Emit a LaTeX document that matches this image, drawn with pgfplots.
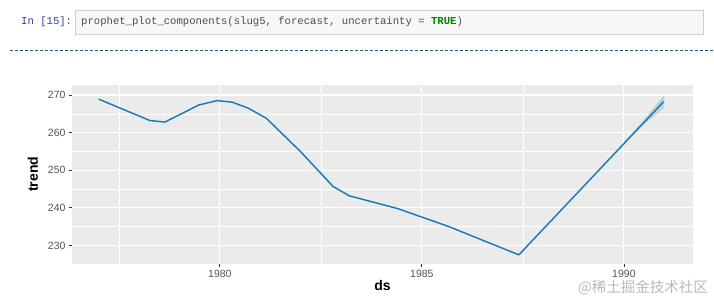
\documentclass[border=0pt]{standalone}
\usepackage{fontspec}
\setmainfont{Liberation Sans}
\setmonofont{Liberation Mono}
\newfontfamily\cjk{Noto Sans CJK SC}
\usepackage{pgfplots}
\pgfplotsset{compat=1.18}
\definecolor{panel}{HTML}{EBEBEB}
\definecolor{pblue}{HTML}{1A7AB5}
\definecolor{prompt}{HTML}{303F9F}
\definecolor{cellbg}{HTML}{F7F7F7}
\definecolor{cellbd}{HTML}{CFCFCF}
\definecolor{dashc}{HTML}{2E5E7A}
\definecolor{tickl}{HTML}{555555}
\definecolor{tickm}{HTML}{333333}
\begin{document}
\begin{tikzpicture}[x=1pt,y=1pt]
\useasboundingbox (0,0) rectangle (714,303);
% notebook cell
\filldraw[fill=cellbg, draw=cellbd, line width=0.6pt] (75,269) rectangle (703,293);
\node[anchor=west, inner sep=0pt, text=prompt, font=\ttfamily\fontsize{10.6}{12}\selectfont] at (21,281) {In [15]:};
\node[anchor=west, inner sep=0pt, text=black!70, font=\ttfamily\fontsize{10.6}{12}\selectfont] at (81,281) {prophet\_plot\_components(slug5, forecast, uncertainty = {\color{green!50!black}\bfseries TRUE})};
\draw[dashc, dashed, line width=0.7pt, dash pattern=on 3pt off 2pt] (10,253) -- (714,253);
\begin{axis}[
  at={(72pt,39.5pt)}, anchor=south west,
  scale only axis, width=621pt, height=178.5pt,
  xmin=1976.34, xmax=1991.71,
  ymin=225.2, ymax=272.65,
  axis background/.style={fill=panel},
  axis line style={draw=none},
  xtick={1980,1985,1990}, xticklabels={1980,1985,1990},
  ytick={230,240,250,260,270},
  minor xtick={1977.5,1982.5,1987.5},
  minor ytick={225,235,245,255,265},
  grid=both,
  major grid style={white, line width=1.1pt},
  minor grid style={white, line width=0.55pt},
  tick align=outside,
  major tick length=3pt,
  minor tick length=0pt,
  tick style={tickm, line width=0.8pt},
  xtick pos=bottom, ytick pos=left,
  /pgf/number format/assume math mode=true,
  ticklabel style={text=tickl, font=\fontsize{10.5}{12}\selectfont},
  xlabel={ds}, ylabel={trend},
  label style={font=\bfseries\fontsize{14}{16}\selectfont, text=black},
  xlabel style={at={(axis description cs:0.5,-0.125)}, anchor=center},
  ylabel style={at={(axis description cs:-0.063,0.5)}, anchor=center, rotate=0},
  clip=true,
]
\addplot[draw=none, fill=pblue, fill opacity=0.22] coordinates {
 (1990.0,257.5) (1990.5,263.5) (1991,270.0)
 (1991,266.6) (1990.5,262.2) (1990.0,257.3)
} -- cycle;
\addplot[pblue, line width=1.45pt, line join=round] coordinates {
 (1977.0,268.9) (1977.6,266.2) (1978.27,263.2) (1978.64,262.8) (1979.05,265.0)
 (1979.47,267.3) (1979.93,268.5) (1980.3,268.1) (1980.7,266.5) (1981.15,263.8)
 (1982.0,254.9) (1982.8,245.7) (1983.2,243.2) (1984.4,239.8) (1985.67,235.0)
 (1987.4,227.5) (1990.98,268.2)
};
\end{axis}
\node[anchor=east, inner sep=0pt, text=gray!55, font=\cjk\fontsize{14.5}{16}\selectfont] at (708,15) {@稀土掘金技术社区};
\end{tikzpicture}
\end{document}
